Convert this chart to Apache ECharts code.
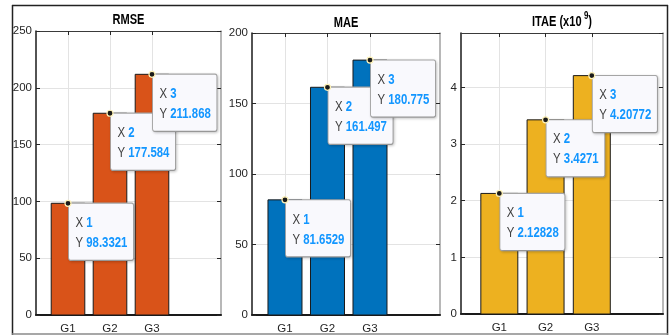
<!DOCTYPE html>
<html><head><meta charset="utf-8">
<script src="https://cdn.jsdelivr.net/npm/echarts@6/dist/echarts.min.js"></script>
<style>html,body{margin:0;padding:0;background:#fff}#c{width:670px;height:335px}</style>
</head><body><div id="c"></div>
<script>
// ---- data ----
const categories = ['G1', 'G2', 'G3'];
const xPositions = [1, 2, 3];
const rmseValues = [98.3321, 177.584, 211.868];
const maeValues = [81.6529, 161.497, 180.775];
const itaeValues = [2.12828, 3.4271, 4.20772]; // x10^9
const panelTitles = ['RMSE', 'MAE', 'ITAE'];

// ---- layout / style ----
const FONT = '"Liberation Sans", Arial, sans-serif';
const panels = [
  { values: rmseValues, color: '#D95319', grid: {left: 36, top: 31, width: 185, height: 285},
    xMin: 0.238, xMax: 4.643, yMax: 250, yInt: 50, titleY: 18 },
  { values: maeValues, color: '#0072BD', grid: {left: 252, top: 33, width: 188, height: 283},
    xMin: 0.224, xMax: 4.647, yMax: 200, yInt: 50, titleY: 21.5 },
  { values: itaeValues, color: '#EDB120', grid: {left: 461, top: 33, width: 202, height: 281},
    xMin: 0.171, xMax: 4.54, yMax: 4.96, yInt: 1, titleY: 20 }
];

const grids = [], xAxes = [], yAxes = [], series = [];
const graphics = [
  {type: 'line', shape: {x1: 12, y1: 5.5, x2: 668, y2: 5.5}, style: {stroke: '#222', lineWidth: 1.5}},
  {type: 'line', shape: {x1: 12.5, y1: 5, x2: 12.5, y2: 335}, style: {stroke: '#222', lineWidth: 1.5}},
  {type: 'line', shape: {x1: 667.5, y1: 5, x2: 667.5, y2: 335}, style: {stroke: '#222', lineWidth: 1.5}},
  {type: 'line', shape: {x1: 12, y1: 334, x2: 668, y2: 334}, style: {stroke: '#8a8a8a', lineWidth: 1.5}}
];

panels.forEach((p, i) => {
  grids.push(Object.assign({containLabel: false}, p.grid));
  const cx = p.grid.left + p.grid.width / 2;
  const titleText = i < 2 ? '{m|' + panelTitles[i] + '}' : '{m|' + panelTitles[i] + ' (x10}{s|9}{m|)}';
  graphics.push({type: 'text', x: cx, y: p.titleY, scaleX: 0.79, z: 20,
    style: {text: titleText, align: 'center', verticalAlign: 'middle',
      rich: {m: {fontFamily: FONT, fontSize: 14, fontWeight: 'bold', fill: '#000', lineHeight: 18, verticalAlign: 'bottom'},
             s: {fontFamily: FONT, fontSize: 10, fontWeight: 'bold', fill: '#000', lineHeight: 10, verticalAlign: 'top', padding: [0, 0, 0, 3]}}}});

  // bottom x axis
  xAxes.push({type: 'value', gridIndex: i, position: 'bottom', min: p.xMin, max: p.xMax,
    axisLine: {show: true, onZero: false, lineStyle: {color: '#1a1a1a', width: 2}},
    axisTick: {show: true, inside: true, length: 4, customValues: xPositions, lineStyle: {color: '#262626'}},
    axisLabel: {customValues: xPositions, formatter: v => categories[Math.round(v) - 1] || '',
      fontFamily: FONT, fontSize: 11.5, color: '#262626', margin: 8},
    splitLine: {show: true, lineStyle: {color: '#e3e3e3', width: 1}}});
  // top x axis (box)
  xAxes.push({type: 'value', gridIndex: i, position: 'top', min: p.xMin, max: p.xMax,
    axisLine: {show: true, onZero: false, lineStyle: {color: '#3a3a3a', width: 1}},
    axisTick: {show: true, inside: true, length: 4, customValues: xPositions, lineStyle: {color: '#262626'}},
    axisLabel: {show: false}, splitLine: {show: false}});
  // left y axis
  yAxes.push({type: 'value', gridIndex: i, position: 'left', min: 0, max: p.yMax, interval: p.yInt,
    axisLine: {show: true, onZero: false, lineStyle: {color: '#1a1a1a', width: 1.5}},
    axisTick: {show: true, inside: true, length: 4, lineStyle: {color: '#262626'}},
    axisLabel: {fontFamily: FONT, fontSize: 11.5, color: '#262626', margin: 4, showMaxLabel: i < 2},
    splitLine: {show: true, lineStyle: {color: '#e3e3e3', width: 1}}});
  // right y axis (box)
  yAxes.push({type: 'value', gridIndex: i, position: 'right', min: 0, max: p.yMax, interval: p.yInt,
    axisLine: {show: true, onZero: false, lineStyle: {color: '#a0a0a0', width: 1.5}},
    axisTick: {show: true, inside: true, length: 4, lineStyle: {color: '#262626'}},
    axisLabel: {show: false}, splitLine: {show: false}});

  const data = xPositions.map((x, k) => [x, p.values[k]]);
  // bars
  series.push({type: 'custom', xAxisIndex: 2 * i, yAxisIndex: 2 * i, z: 3, data: data,
    renderItem: (params, api) => {
      const x = api.value(0), y = api.value(1);
      const a = api.coord([x - 0.4, y]);
      const b = api.coord([x + 0.4, 0]);
      return {type: 'rect', shape: {x: a[0], y: a[1], width: b[0] - a[0], height: b[1] - a[1]},
        style: {fill: p.color, stroke: '#1a1a1a', lineWidth: 1}};
    }});
  // data tips
  series.push({type: 'custom', xAxisIndex: 2 * i, yAxisIndex: 2 * i, z: 10, data: data,
    renderItem: (params, api) => {
      const x = api.value(0), y = api.value(1);
      const c = api.coord([x, y]);
      return {type: 'group', children: [
        {type: 'text', x: c[0] + 1, y: c[1] + 0.5, scaleX: 0.76,
          style: {text: '{k|X} {v|' + x + '}\n{k|Y} {v|' + y + '}',
            align: 'left', verticalAlign: 'top', fontFamily: FONT, fontSize: 15, lineHeight: 20,
            backgroundColor: '#f9f9fd', borderColor: '#a9a9a9', borderWidth: 1.2, borderRadius: 2,
            padding: [9, 7.5, 7, 8.5], shadowColor: 'rgba(0,0,0,0.18)', shadowBlur: 3, shadowOffsetX: 1, shadowOffsetY: 1,
            rich: {k: {fontFamily: FONT, fontSize: 15, fill: '#404040', lineHeight: 20},
                   v: {fontFamily: FONT, fontSize: 15, fontWeight: 'bold', fill: '#1296ff', lineHeight: 20}}}},
        {type: 'circle', shape: {cx: c[0], cy: c[1], r: 3},
          style: {fill: '#1a1a1a', stroke: '#fff3b8', lineWidth: 1.2}}
      ]};
    }});
});

const chart = echarts.init(document.getElementById('c'), null, {renderer: 'canvas'});
chart.setOption({
  animation: false,
  backgroundColor: '#ffffff',
  grid: grids,
  xAxis: xAxes,
  yAxis: yAxes,
  series: series,
  graphic: graphics
});
</script></body></html>
